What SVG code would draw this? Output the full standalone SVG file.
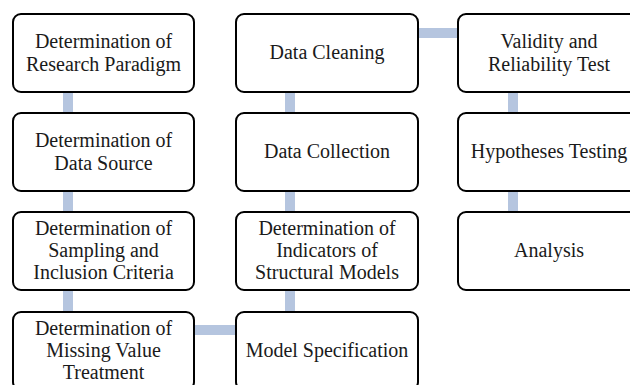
<svg xmlns="http://www.w3.org/2000/svg" width="630" height="385" viewBox="0 0 630 385">
<style>
.box{fill:#fff;stroke:#000;stroke-width:2}
.t{font-family:"Liberation Serif","Times New Roman",serif;font-size:20px;fill:#1a1a1a;text-anchor:middle}
.c{fill:#b5c5df}
</style>
<rect width="630" height="385" fill="#fff"/>
<g id="connectors">
<rect class="c" x="63" y="90" width="10" height="25"/>
<rect class="c" x="63" y="189" width="10" height="25"/>
<rect class="c" x="63" y="288" width="10" height="26"/>
<rect class="c" x="192" y="325" width="46" height="10"/>
<rect class="c" x="285" y="90" width="10" height="25"/>
<rect class="c" x="285" y="189" width="10" height="25"/>
<rect class="c" x="285" y="288" width="10" height="26"/>
<rect class="c" x="416" y="28" width="44" height="10"/>
<rect class="c" x="508" y="90" width="10" height="25"/>
<rect class="c" x="508" y="189" width="10" height="25"/>
</g>
<g id="n1"><rect class="box" x="13" y="14" width="181" height="78" rx="8"/><text class="t" x="103.5" y="48">Determination of</text><text class="t" x="103.5" y="71">Research Paradigm</text></g>
<g id="n2"><rect class="box" x="13" y="113" width="181" height="78" rx="8"/><text class="t" x="103.5" y="147">Determination of</text><text class="t" x="103.5" y="170">Data Source</text></g>
<g id="n3"><rect class="box" x="13" y="212" width="181" height="78" rx="8"/><text class="t" x="103.5" y="235">Determination of</text><text class="t" x="103.5" y="257">Sampling and</text><text class="t" x="103.5" y="279">Inclusion Criteria</text></g>
<g id="n4"><rect class="box" x="13" y="312" width="181" height="78" rx="8"/><text class="t" x="103.5" y="335">Determination of</text><text class="t" x="103.5" y="357">Missing Value</text><text class="t" x="103.5" y="379">Treatment</text></g>
<g id="n5"><rect class="box" x="236" y="312" width="182" height="78" rx="8"/><text class="t" x="327" y="357">Model Specification</text></g>
<g id="n6"><rect class="box" x="236" y="212" width="182" height="78" rx="8"/><text class="t" x="327" y="235">Determination of</text><text class="t" x="327" y="257">Indicators of</text><text class="t" x="327" y="279">Structural Models</text></g>
<g id="n7"><rect class="box" x="236" y="113" width="182" height="78" rx="8"/><text class="t" x="327" y="158">Data Collection</text></g>
<g id="n8"><rect class="box" x="236" y="14" width="182" height="78" rx="8"/><text class="t" x="327" y="59">Data Cleaning</text></g>
<g id="n9"><rect class="box" x="458" y="14" width="182" height="78" rx="8"/><text class="t" x="549" y="48">Validity and</text><text class="t" x="549" y="71">Reliability Test</text></g>
<g id="n10"><rect class="box" x="458" y="113" width="182" height="78" rx="8"/><text class="t" x="549" y="158">Hypotheses Testing</text></g>
<g id="n11"><rect class="box" x="458" y="212" width="182" height="78" rx="8"/><text class="t" x="549" y="257">Analysis</text></g>
</svg>
